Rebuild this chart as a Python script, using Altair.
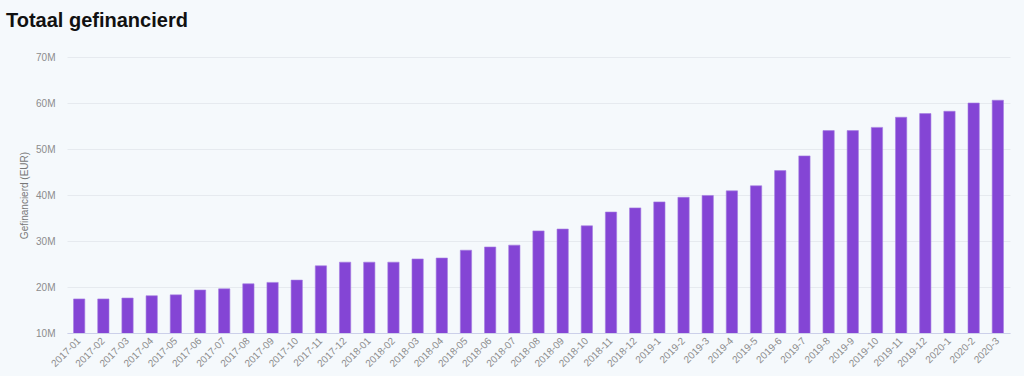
import altair as alt
import pandas as pd

months = ["2017-01","2017-02","2017-03","2017-04","2017-05","2017-06","2017-07","2017-08","2017-09","2017-10",
          "2017-11","2017-12","2018-01","2018-02","2018-03","2018-04","2018-05","2018-06","2018-07","2018-08",
          "2018-09","2018-10","2018-11","2018-12","2019-1","2019-2","2019-3","2019-4","2019-5","2019-6",
          "2019-7","2019-8","2019-9","2019-10","2019-11","2019-12","2020-1","2020-2","2020-3"]
# values in millions EUR
values_m = [17.4, 17.4, 17.6, 18.1, 18.3, 19.35, 19.6, 20.7, 21.0, 21.5,
            24.6, 25.4, 25.4, 25.4, 26.1, 26.3, 28.0, 28.7, 29.1, 32.2,
            32.6, 33.3, 36.3, 37.2, 38.5, 39.5, 39.9, 40.9, 42.0, 45.3,
            48.5, 54.0, 54.0, 54.7, 56.9, 57.7, 58.2, 60.0, 60.6]

df = pd.DataFrame({"maand": months, "bedrag": [v * 1e6 for v in values_m]})

font = "Liberation Sans"

chart = alt.Chart(df).mark_bar(color="#8445d5", stroke="#a57de0", strokeWidth=0.6, clip=True).encode(
    x=alt.X("maand:N", sort=months,
            scale=alt.Scale(paddingInner=0.533, paddingOuter=0.27),
            axis=alt.Axis(title=None, labelAngle=-45, labelAlign="right", labelBaseline="middle",
                          labelFontSize=10, labelColor="#8c8c8c", labelFont=font,
                          ticks=False, labelPadding=6, domainColor="#ccd0ea", domainWidth=1,
                          grid=False)),
    y=alt.Y("bedrag:Q",
            scale=alt.Scale(domain=[10e6, 70e6], nice=False, zero=False),
            axis=alt.Axis(title="Gefinancierd (EUR)", titleFontSize=10, titleFontWeight="normal",
                          titleColor="#777777", titleFont=font, titlePadding=6,
                          format="~s", values=[10e6, 20e6, 30e6, 40e6, 50e6, 60e6, 70e6],
                          labelFontSize=10, labelColor="#8c8c8c", labelFont=font,
                          ticks=False, domain=False, labelPadding=12,
                          gridColor="#e6eaef", gridWidth=1)),
).properties(
    width=943, height=276,
    title=alt.TitleParams("Totaal gefinancierd", anchor="start", frame="group", fontSize=20, font=font,
                          fontWeight="bold", color="#111111", dx=-61, offset=21),
    autosize=alt.AutoSizeParams(type="none"),
    padding={"left": 67, "top": 57, "right": 14, "bottom": 43},
    background="#f5f9fc",
).configure_view(stroke=None)

chart.save("out.html", embed_options={"renderer": "svg", "actions": False})
